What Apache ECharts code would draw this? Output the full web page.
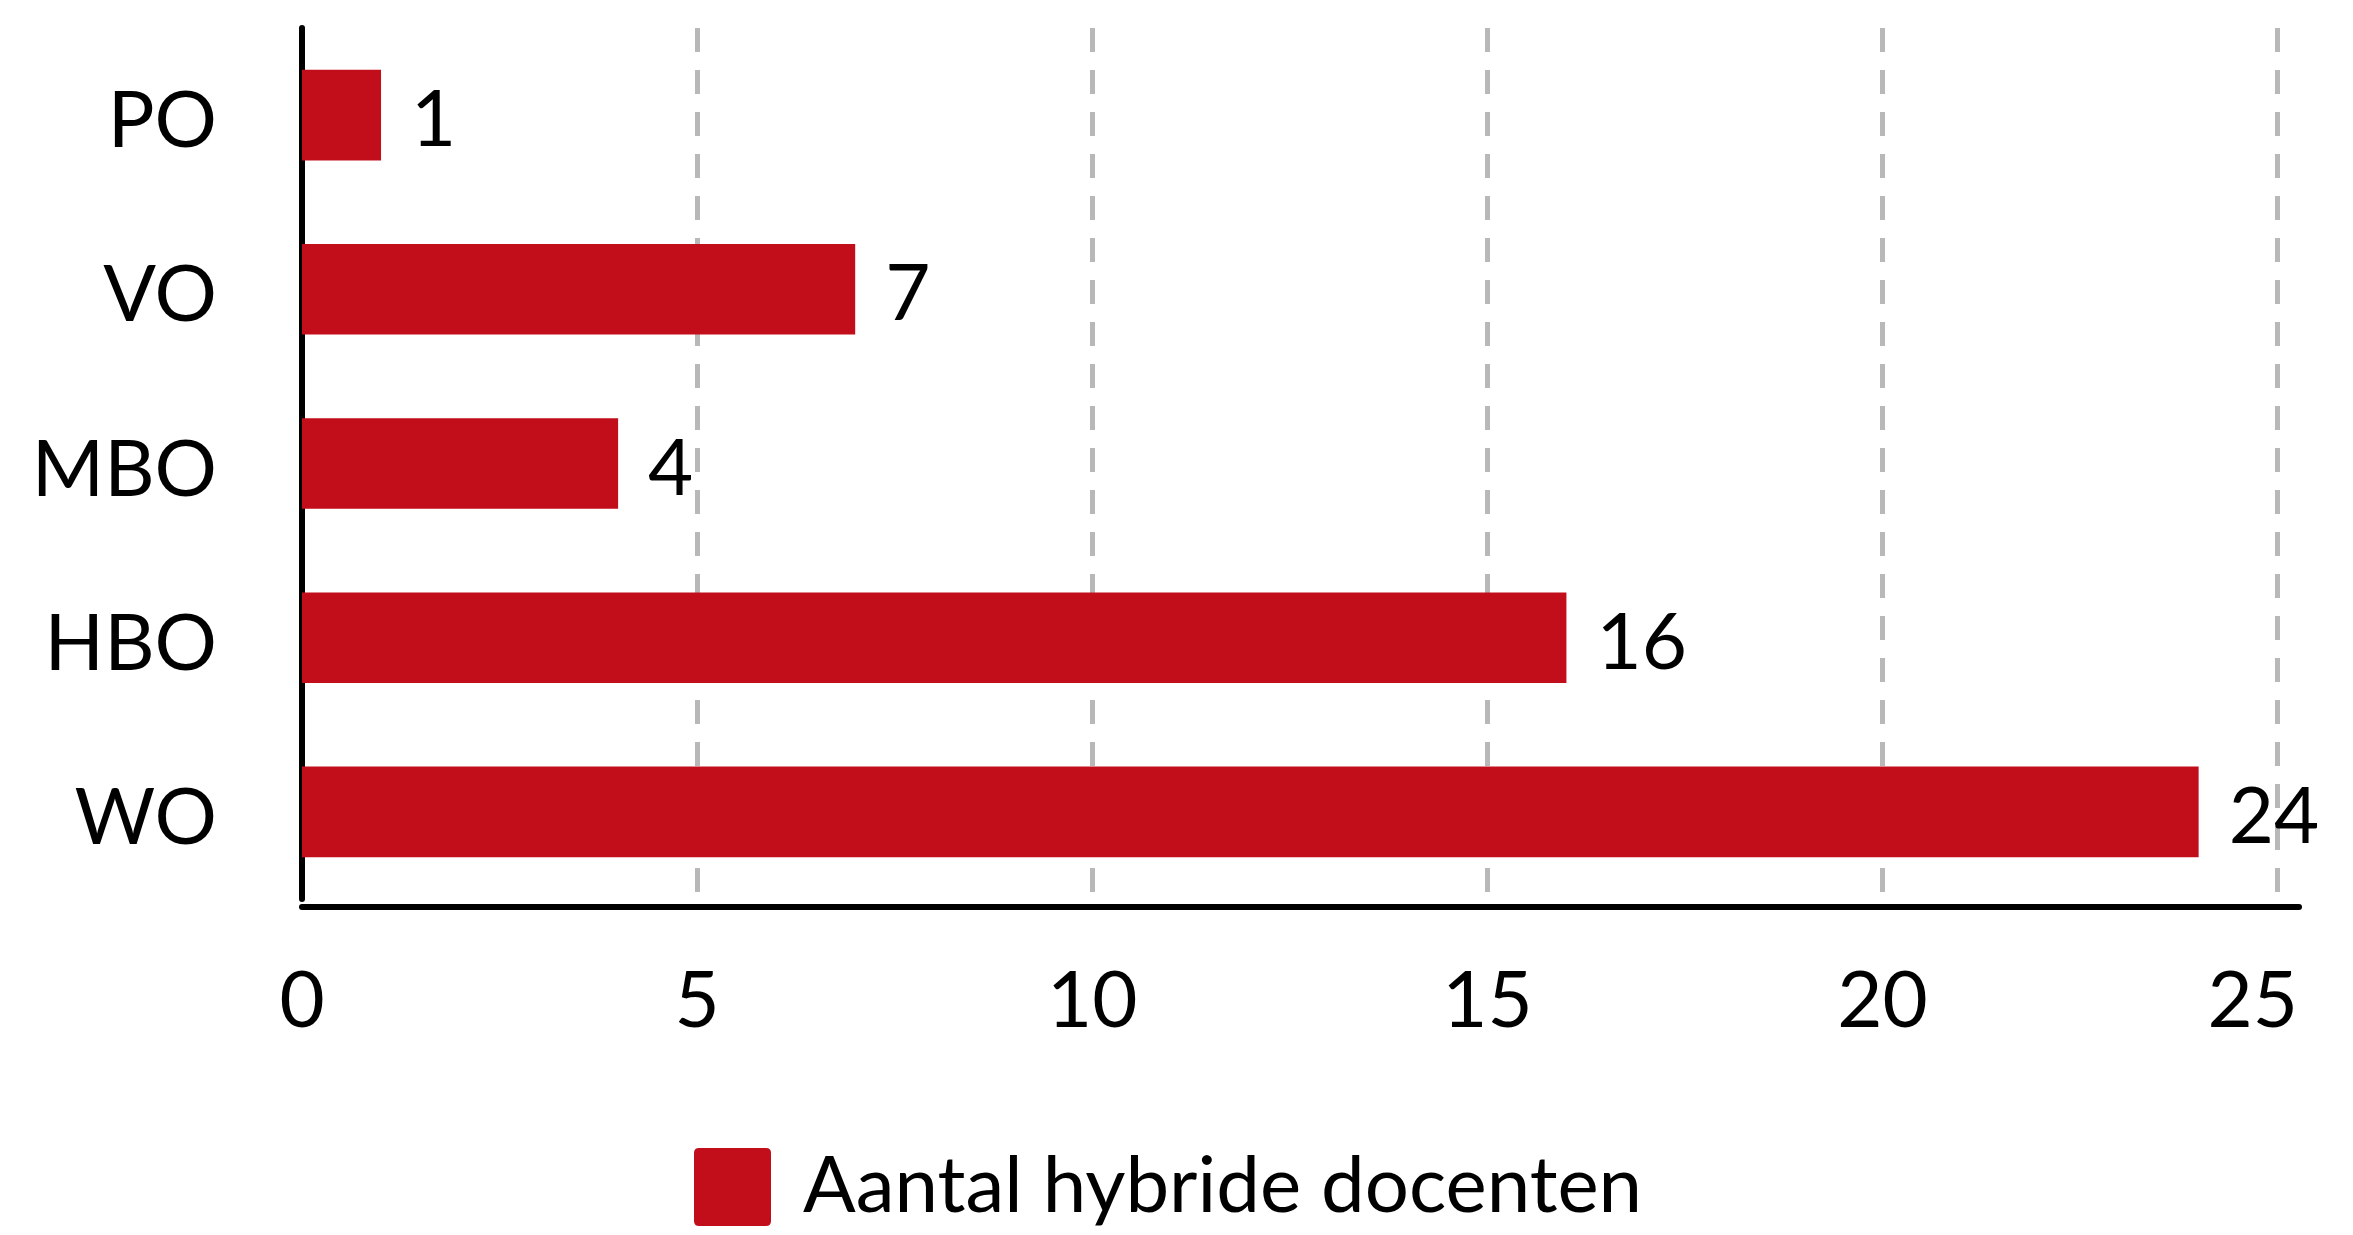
<!DOCTYPE html>
<html>
<head>
<meta charset="utf-8">
<script src="https://cdn.jsdelivr.net/npm/echarts@6/dist/echarts.min.js"></script>
<style>
html,body{margin:0;padding:0;background:#fff;}
#chart{width:2353px;height:1235px;}
</style>
</head>
<body>
<div id="chart"></div>
<script>
const categories = ['PO', 'VO', 'MBO', 'HBO', 'WO'];
const values = [1, 7, 4, 16, 24];
const seriesName = 'Aantal hybride docenten';
const xTicks = [0, 5, 10, 15, 20, 25];

const FONT = 'Lato';
const RED = '#C20E1A';

const chart = echarts.init(document.getElementById('chart'), null, {renderer: 'canvas'});
chart.setOption({
  animation: false,
  backgroundColor: '#ffffff',
  textStyle: {fontFamily: FONT},
  grid: {left: 302, right: 54, top: 28, bottom: 336, containLabel: false},
  legend: {
    data: [seriesName],
    left: 689,
    top: 1143,
    icon: 'path://M5,0 H72 Q77,0 77,5 V73 Q77,78 72,78 H5 Q0,78 0,73 V5 Q0,0 5,0 Z',
    itemWidth: 77,
    itemHeight: 78,
    itemGap: 35,
    textStyle: {fontFamily: FONT, fontSize: 78, color: '#000', padding: [0, 0, 0, 27]}
  },
  xAxis: {
    type: 'value',
    min: 0,
    max: 25.27,
    interval: 5,
    offset: 8,
    axisLine: {show: true, lineStyle: {color: '#000', width: 6}},
    axisTick: {show: false},
    splitLine: {show: true, showMinLine: false, showMaxLine: false, lineStyle: {color: '#b8b8b8', width: 5, type: [24, 18]}},
    axisLabel: {
      showMaxLabel: false,
      margin: 56,
      fontFamily: FONT,
      fontSize: 78,
      color: '#000',
      formatter: function (v) {
        if (xTicks.indexOf(v) < 0) return '';
        return v === 25 ? '{last|' + v + '}' : String(v);
      },
      rich: {last: {fontFamily: FONT, fontSize: 78, color: '#000', padding: [0, 50, 0, 0]}}
    }
  },
  yAxis: {
    type: 'category',
    data: categories,
    inverse: true,
    axisLine: {show: true, lineStyle: {color: '#000', width: 6}},
    axisTick: {show: false},
    splitLine: {show: false},
    axisLabel: {
      margin: 85,
      fontFamily: FONT,
      fontSize: 78,
      color: '#000',
      formatter: function (v) { return '{c|' + v + '}'; },
      rich: {c: {fontFamily: FONT, fontSize: 78, color: '#000', padding: [14, 0, 0, 0]}}
    }
  },
  series: [{
    name: seriesName,
    type: 'bar',
    data: values,
    barWidth: '52%',
    itemStyle: {color: RED},
    label: {show: true, position: 'right', distance: 30, offset: [0, 6], fontFamily: FONT, fontSize: 78, color: '#000'}
  }]
});
</script>
</body>
</html>
